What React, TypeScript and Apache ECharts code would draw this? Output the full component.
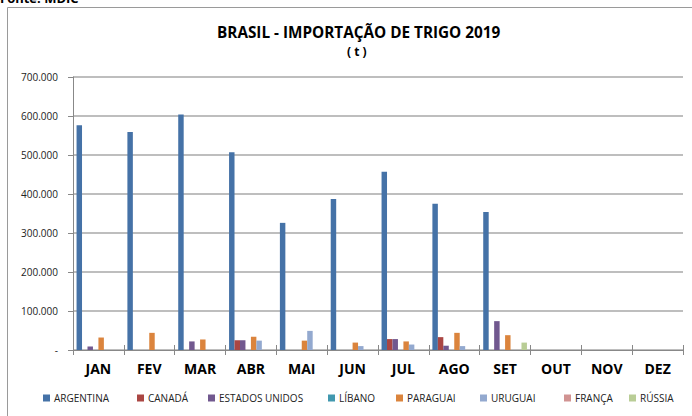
import React, { useEffect, useRef } from "react";
import * as echarts from "echarts";

const months = ["JAN", "FEV", "MAR", "ABR", "MAI", "JUN", "JUL", "AGO", "SET", "OUT", "NOV", "DEZ"];
const seriesNames = ["ARGENTINA", "CANADÁ", "ESTADOS UNIDOS", "LÍBANO", "PARAGUAI", "URUGUAI", "FRANÇA", "RÚSSIA"];
const argentina = [576000, 559000, 604000, 507000, 326000, 387000, 457000, 375000, 354000, null, null, null];
const canada = [null, null, null, 25000, null, null, 28000, 33000, null, null, null, null];
const estadosUnidos = [9000, null, 22000, 25000, null, null, 28000, 11000, 74000, null, null, null];
const libano = [null, null, null, null, null, null, null, null, null, null, null, null];
const paraguai = [32000, 44000, 27000, 34000, 24000, 19000, 22000, 44000, 38000, null, null, null];
const uruguai = [null, null, null, 24000, 49000, 10000, 14000, 10000, null, null, null, null];
const franca = [null, null, null, null, null, null, null, null, null, null, null, null];
const russia = [null, null, null, null, null, null, null, null, 19000, null, null, null];
const allValues = [argentina, canada, estadosUnidos, libano, paraguai, uruguai, franca, russia];
const colors = ["#4572A7", "#AA4643", "#71588F", "#4198AF", "#DB843D", "#93A9CF", "#D19392", "#B9CD96"];
const legendLefts = [43, 137, 208, 328, 396, 480, 564, 629];

const fmt = (v: number) => (v === 0 ? "-" : String(v).replace(/\B(?=(\d{3})+(?!\d))/g, "."));

export default function App() {
  const ref = useRef<HTMLDivElement>(null);
  useEffect(() => {
    if (!ref.current) return;
    const chart = echarts.init(ref.current, null, { renderer: "svg" });
    const font = "'Open Sans', 'Liberation Sans', sans-serif";
    chart.setOption({
      animation: false,
      backgroundColor: "#ffffff",
      textStyle: { fontFamily: font },
      title: [
        {
          text: "BRASIL - IMPORTAÇÃO DE TRIGO 2019",
          left: 212,
          top: 19,
          textStyle: { fontFamily: font, fontSize: 15.3, fontWeight: "bold", color: "#000" },
        },
        {
          text: "( t )",
          left: 342,
          top: 40,
          textStyle: { fontFamily: font, fontSize: 12, fontWeight: "bold", color: "#000" },
        },
      ],
      graphic: [
        {
          type: "rect",
          shape: { x: 7.5, y: 7.5, width: 720, height: 440 },
          style: { fill: "none", stroke: "#9a9a9a", lineWidth: 1 },
          silent: true,
        },
        {
          type: "text",
          left: 0,
          top: -9,
          style: { text: "Fonte: MDIC", font: `bold 13px ${font}`, fill: "#000" },
        },
      ],
      legend: seriesNames.map((n, i) => ({
        data: [n],
        left: legendLefts[i],
        top: 393,
        itemWidth: 7,
        itemHeight: 7,
        icon: "rect",
        itemGap: 0,
        textStyle: { fontFamily: font, fontSize: 10, color: "#222", padding: [0, 0, 0, -1] },
        padding: 0,
      })),
      grid: { left: 73, right: 9, top: 77, bottom: 66, containLabel: false },
      xAxis: [
        {
          type: "category",
          data: months,
          axisLine: { show: true, lineStyle: { color: "#888", width: 1 } },
          axisTick: { show: true, length: 5, lineStyle: { color: "#888" } },
          axisLabel: { fontFamily: font, fontSize: 14, fontWeight: "bold", color: "#000", margin: 11 },
        },
        {
          type: "category",
          data: months,
          position: "bottom",
          axisLine: { show: false },
          axisTick: { show: true, inside: true, length: 5, lineStyle: { color: "#888" } },
          axisLabel: { show: false },
          splitLine: { show: false },
        },
      ],
      yAxis: {
        type: "value",
        min: 0,
        max: 700000,
        interval: 100000,
        axisLine: { show: true, lineStyle: { color: "#888", width: 1 } },
        axisTick: { show: true, length: 5, lineStyle: { color: "#888" } },
        axisLabel: { fontFamily: font, fontSize: 10, color: "#222", margin: 15, formatter: fmt },
        splitLine: { show: true, lineStyle: { color: "#a8a8a8", width: 1.5 } },
      },
      series: seriesNames.map((n, i) => ({
        name: n,
        type: "bar",
        xAxisIndex: 0,
        data: allValues[i],
        barGap: "0%",
        barCategoryGap: "14%",
        itemStyle: { color: colors[i] },
      })),
    });
    return () => chart.dispose();
  }, []);
  return <div ref={ref} style={{ position: "fixed", left: 0, top: 0, width: 692, height: 416 }} />;
}
